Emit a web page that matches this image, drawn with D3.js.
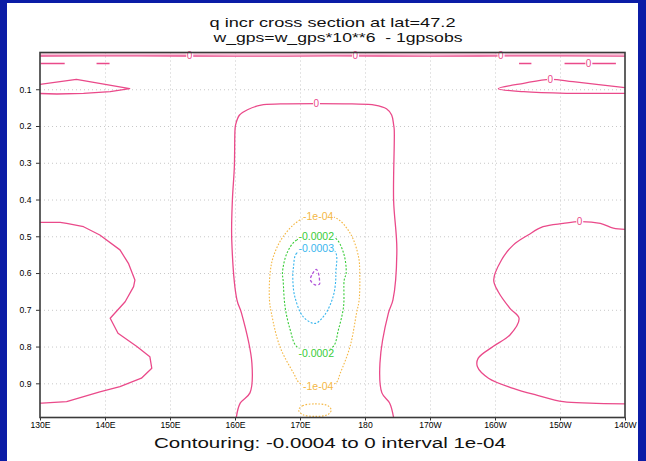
<!DOCTYPE html>
<html>
<head>
<meta charset="utf-8">
<script src="https://cdn.jsdelivr.net/npm/d3@7"></script>
<style>
  html, body { margin: 0; padding: 0; background: #0b1ca6; }
  svg { display: block; }
</style>
</head>
<body>
<svg id="chart" width="646" height="461"></svg>
<script>
// ---- axis ticks ----
const lonTicks = [130, 140, 150, 160, 170, 180, 190, 200, 210, 220];
const lonLabels = ["130E", "140E", "150E", "160E", "170E", "180", "170W", "160W", "150W", "140W"];
const sigmaTicks = [0.1, 0.2, 0.3, 0.4, 0.5, 0.6, 0.7, 0.8, 0.9];
const sigmaLabels = ["0.1", "0.2", "0.3", "0.4", "0.5", "0.6", "0.7", "0.8", "0.9"];

// ---- contour levels ----
const levels = [-0.0004, -0.0003, -0.0002, -0.0001, 0];

// ---- contour lines, [longitude (deg E), sigma] ----
// zero line hugging the model top
const zeroTop = [[130, 0.0095], [145, 0.0092], [160, 0.0098], [175, 0.0094], [190, 0.0097], [205, 0.0093], [220, 0.0096]];
const zeroTopFaint = [[130, 0.005], [220, 0.005]];
// thin zero slivers just below the top
const zeroSlivers = [
  [[130.1, 0.0299], [133.8, 0.0299]],
  [[138.7, 0.0299], [140.7, 0.0299]],
  [[203.7, 0.0299], [205.6, 0.0299]],
  [[210.7, 0.0299], [218.6, 0.0299]]
];
// zero lobes near sigma 0.1
const zeroUpperWest = [[130.0, 0.0865], [135.6, 0.0729], [143.8, 0.0985], [140.8, 0.1066], [136.7, 0.111], [132.6, 0.1129], [130.0, 0.1115]];
const zeroUpperEast = [[220.0, 0.0958], [212.0, 0.0794], [208.5, 0.0729], [204.4, 0.0838], [200.5, 0.0985], [204.4, 0.1066], [211.0, 0.111], [220.0, 0.111]];
// zero line bounding the western region
const zeroWest = [[130.0, 0.462], [133.1, 0.462], [134.1, 0.465], [136.7, 0.474], [139.2, 0.4965], [142.3, 0.537], [143.6, 0.5735],
  [144.6, 0.619], [144.4, 0.637], [143.1, 0.678], [140.8, 0.723], [142.0, 0.764], [144.9, 0.800], [146.9, 0.8275],
  [147.2, 0.859], [145.6, 0.886], [142.3, 0.909], [139.2, 0.923], [134.1, 0.950], [130.3, 0.954], [130.0, 0.954]];
// zero line bounding the eastern region
const zeroEast = [[220.0, 0.481], [218.2, 0.478], [216.2, 0.465], [213.0, 0.460], [210.5, 0.465], [207.4, 0.474], [205.1, 0.4965],
  [202.8, 0.524], [201.0, 0.5645], [199.8, 0.619], [200.5, 0.651], [202.3, 0.696], [203.7, 0.723], [202.3, 0.7685],
  [199.7, 0.800], [197.4, 0.832], [197.3, 0.855], [199.0, 0.886], [202.8, 0.9135], [206.4, 0.932], [210.5, 0.950],
  [214.6, 0.954], [220.0, 0.956]];
// zero line around the central column
const zeroCentral = [[160.2, 0.993], [160.8, 0.954], [162.3, 0.926], [162.6, 0.845], [161.0, 0.709], [160.3, 0.673],
  [159.5, 0.510], [159.6, 0.401], [159.9, 0.311], [160.0, 0.211], [160.1, 0.196], [160.7, 0.170], [162.0, 0.155],
  [164.0, 0.143], [167.0, 0.140], [172.5, 0.139], [178.0, 0.140], [181.5, 0.143], [183.3, 0.153], [184.1, 0.170],
  [184.4, 0.196], [184.5, 0.211], [184.4, 0.401], [184.9, 0.537], [184.3, 0.673], [183.6, 0.709], [182.3, 0.845],
  [182.6, 0.926], [183.8, 0.954], [184.4, 0.993]];
// -1e-04 loops
const minus1Loop = [[172.8, 0.447], [170.0, 0.456], [167.4, 0.501], [165.9, 0.5555], [165.4, 0.6007], [165.3, 0.673],
  [165.6, 0.709], [166.9, 0.800], [169.0, 0.872], [170.0, 0.900], [172.8, 0.907], [175.5, 0.899], [176.2, 0.872],
  [177.7, 0.800], [178.7, 0.709], [179.1, 0.673], [179.2, 0.610], [179.0, 0.5555], [177.7, 0.491], [175.5, 0.450]];
const minus1Small = [[169.8, 0.973], [170.4, 0.961], [172.3, 0.956], [174.3, 0.961], [174.8, 0.973], [174.3, 0.985], [172.3, 0.990], [170.4, 0.985]];
// -0.0002 loop
const minus2Loop = [[172.5, 0.499], [169.5, 0.510], [168.0, 0.5454], [167.3, 0.600], [167.4, 0.619], [167.7, 0.6915],
  [168.5, 0.755], [169.5, 0.800], [172.5, 0.818], [175.1, 0.800], [175.9, 0.755], [176.7, 0.6915], [176.8, 0.619],
  [177.1, 0.600], [176.7, 0.5454], [175.4, 0.5046]];
// -0.0003 loop
const minus3Loop = [[172.5, 0.533], [169.5, 0.546], [169.0, 0.583], [168.9, 0.619], [169.2, 0.664], [170.5, 0.719],
  [172.3, 0.737], [173.8, 0.714], [175.1, 0.664], [175.5, 0.619], [175.5, 0.601], [175.4, 0.542]];
// -0.0004 loop
const minus4Loop = [[172.5, 0.590], [171.8, 0.606], [171.6, 0.619], [172.3, 0.632], [173.0, 0.630], [173.0, 0.619], [172.9, 0.605]];

// ---- contour labels: [level, longitude, sigma, text] ----
const contourLabels = [
  [0, 153.0, 0.0095, "0"], [0, 178.5, 0.0095, "0"], [0, 200.9, 0.0095, "0"],
  [0, 214.4, 0.0299, "0"], [0, 208.5, 0.0729, "0"], [0, 172.5, 0.139, "0"], [0, 213.0, 0.460, "0"],
  [-0.0001, 172.8, 0.447, "-1e-04"], [-0.0001, 172.8, 0.907, "-1e-04"],
  [-0.0002, 172.5, 0.499, "-0.0002"], [-0.0002, 172.5, 0.818, "-0.0002"],
  [-0.0003, 172.5, 0.533, "-0.0003"]
];

// ---- title text ----
const titleLines = ["q incr cross section at lat=47.2", "w_gps=w_gps*10**6  - 1gpsobs"];
const captionText = "Contouring: -0.0004 to 0 interval 1e-04";

// ---- drawing ----
const svg = d3.select("#chart");
const W = 646, H = 461;
const plot = { left: 40, right: 625, top: 52.5, bottom: 417.5 };

const x = d3.scaleLinear().domain([130, 220]).range([plot.left, plot.right]);
const y = d3.scaleLinear().domain([0, 0.993]).range([plot.top, plot.bottom]);

const colorScale = d3.scaleOrdinal().domain(levels)
  .range(["#b257da", "#38b6ee", "#38cc38", "#f4b744", "#ea4a8a"]);
const dashScale = d3.scaleOrdinal().domain(levels)
  .range(["3,2", "2,1.6", "2,1.6", "1.6,1.6", null]);

// white panel inside the blue frame
svg.append("rect").attr("x", 7).attr("y", 3).attr("width", 631).attr("height", H - 3).attr("fill", "#ffffff");

// gridlines
const gridColor = "#c8c8c8";
svg.append("g")
  .attr("transform", `translate(0,${plot.bottom})`)
  .call(d3.axisBottom(x).tickValues(lonTicks.slice(1, -1)).tickSize(-(plot.bottom - plot.top)).tickFormat(""))
  .call(g => g.select(".domain").remove())
  .call(g => g.selectAll("line").attr("stroke", gridColor).attr("stroke-width", 1).attr("stroke-dasharray", "1,3"));
svg.append("g")
  .attr("transform", `translate(${plot.left},0)`)
  .call(d3.axisLeft(y).tickValues(sigmaTicks).tickSize(-(plot.right - plot.left)).tickFormat(""))
  .call(g => g.select(".domain").remove())
  .call(g => g.selectAll("line").attr("stroke", gridColor).attr("stroke-width", 1).attr("stroke-dasharray", "1,3"));

// clip for contour lines
svg.append("defs").append("clipPath").attr("id", "plotClip")
  .append("rect").attr("x", plot.left).attr("y", plot.top)
  .attr("width", plot.right - plot.left).attr("height", plot.bottom - plot.top);

const layer = svg.append("g").attr("clip-path", "url(#plotClip)");

const openLine = d3.line().x(d => x(d[0])).y(d => y(d[1])).curve(d3.curveCatmullRom.alpha(0.5));
const straightLine = d3.line().x(d => x(d[0])).y(d => y(d[1])).curve(d3.curveLinear);
const closedLine = d3.line().x(d => x(d[0])).y(d => y(d[1])).curve(d3.curveCatmullRomClosed.alpha(0.5));

function drawContour(points, level, gen, opts = {}) {
  layer.append("path")
    .attr("d", gen(points))
    .attr("fill", "none")
    .attr("stroke", colorScale(level))
    .attr("stroke-width", opts.width || (level === 0 ? 1.3 : 1.1))
    .attr("stroke-opacity", opts.opacity || 1)
    .attr("stroke-dasharray", dashScale(level))
    .attr("stroke-linejoin", "round");
}

drawContour(zeroTopFaint, 0, straightLine, { opacity: 0.35, width: 2 });
drawContour(zeroTop, 0, openLine);
zeroSlivers.forEach(s => drawContour(s, 0, straightLine, { width: 1.6 }));
drawContour(zeroUpperWest, 0, straightLine);
drawContour(zeroUpperEast, 0, openLine);
drawContour(zeroWest, 0, straightLine);
drawContour(zeroEast, 0, openLine);
drawContour(zeroCentral, 0, openLine);
drawContour(minus1Loop, -0.0001, closedLine);
drawContour(minus1Small, -0.0001, closedLine);
drawContour(minus2Loop, -0.0002, closedLine);
drawContour(minus3Loop, -0.0003, closedLine);
drawContour(minus4Loop, -0.0004, closedLine, { width: 1.3 });

// contour labels on a white mask
const labelGroup = svg.append("g");
contourLabels.forEach(([lev, lon, sig, txt]) => {
  const g = labelGroup.append("g").attr("transform", `translate(${x(lon)},${y(sig)})`);
  const rect = g.append("rect").attr("fill", "#ffffff");
  const t = g.append("text")
    .attr("text-anchor", "middle")
    .attr("dy", "0.35em")
    .attr("font-family", "'Liberation Sans', Arial, sans-serif")
    .attr("font-size", lev === 0 ? 10 : 10.5)
    .attr("fill", colorScale(lev))
    .text(txt);
  const bb = t.node().getBBox();
  rect.attr("x", bb.x - 0.5).attr("y", bb.y + 1.5).attr("width", bb.width + 1).attr("height", bb.height - 3);
});

// axes
const axisFont = "'Liberation Sans', Arial, sans-serif";
svg.append("g")
  .attr("transform", `translate(0,${plot.bottom})`)
  .call(d3.axisBottom(x).tickValues(lonTicks).tickFormat((d, i) => lonLabels[i]).tickSize(3).tickPadding(1.5))
  .call(g => g.select(".domain").remove())
  .call(g => g.selectAll("line").attr("stroke", "#333"))
  .call(g => g.selectAll("text").attr("font-family", axisFont).attr("font-size", 8.6).attr("fill", "#000"));
svg.append("g")
  .attr("transform", `translate(${plot.left},0)`)
  .call(d3.axisLeft(y).tickValues(sigmaTicks).tickFormat((d, i) => sigmaLabels[i]).tickSize(4).tickPadding(4.5))
  .call(g => g.select(".domain").remove())
  .call(g => g.selectAll("line").attr("stroke", "#333"))
  .call(g => g.selectAll("text").attr("font-family", axisFont).attr("font-size", 8.6).attr("fill", "#000"));

// plot frame
svg.append("rect")
  .attr("x", plot.left).attr("y", plot.top)
  .attr("width", plot.right - plot.left).attr("height", plot.bottom - plot.top)
  .attr("fill", "none").attr("stroke", "#3a3a3a").attr("stroke-width", 1.6);

// titles
const titleFont = "'Liberation Sans', Arial, sans-serif";
svg.append("text").attr("x", 209.5).attr("y", 26.5)
  .attr("font-family", titleFont).attr("font-size", 13.5).attr("fill", "#111")
  .attr("textLength", 246).attr("lengthAdjust", "spacingAndGlyphs")
  .text(titleLines[0]);
svg.append("text").attr("x", 213.5).attr("y", 41.5)
  .attr("font-family", titleFont).attr("font-size", 13.5).attr("fill", "#111")
  .attr("textLength", 249).attr("lengthAdjust", "spacingAndGlyphs")
  .attr("xml:space", "preserve").style("white-space", "pre")
  .text(titleLines[1]);
svg.append("text").attr("x", 154).attr("y", 448)
  .attr("font-family", titleFont).attr("font-size", 15.5).attr("fill", "#111")
  .attr("textLength", 352).attr("lengthAdjust", "spacingAndGlyphs")
  .text(captionText);
</script>
</body>
</html>
